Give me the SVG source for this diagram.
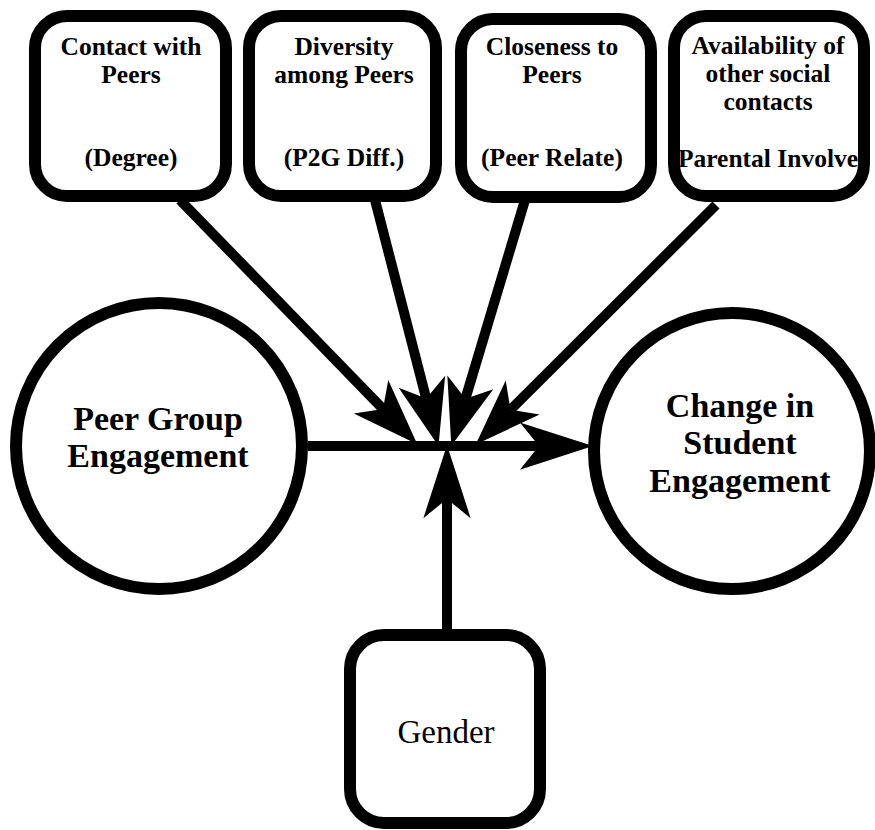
<svg xmlns="http://www.w3.org/2000/svg" width="875" height="830" viewBox="0 0 875 830">
<style>
.box{fill:#fff;stroke:#000;stroke-width:12}
.circ{fill:#fff;stroke:#000;stroke-width:12}
.bt{font-family:"Liberation Serif","Times New Roman",serif;font-weight:bold;font-size:25.5px;text-anchor:middle;fill:#000}
.ct{font-family:"Liberation Serif","Times New Roman",serif;font-weight:bold;font-size:34px;text-anchor:middle;fill:#000}
.gt{font-family:"Liberation Serif","Times New Roman",serif;font-size:33px;text-anchor:middle;fill:#000}
.ln{stroke:#000;stroke-width:10;fill:none}
</style>
<defs>
<marker id="ahS" markerUnits="userSpaceOnUse" orient="auto" refX="0" refY="0" markerWidth="80" markerHeight="60" viewBox="-20 -25 70 50" overflow="visible">
<path d="M-15,-21 L43,0 L-15,21 L0,0 Z" fill="#000"/>
</marker>
<marker id="ahB" markerUnits="userSpaceOnUse" orient="auto" refX="0" refY="0" markerWidth="90" markerHeight="60" viewBox="-20 -25 80 50" overflow="visible">
<path d="M-17,-21 L48,0 L-17,21 L0,0 Z" fill="#000"/>
</marker>
</defs>
<g id="connectors">
<line class="ln" x1="180" y1="200" x2="383" y2="409" marker-end="url(#ahS)"/>
<line class="ln" x1="375" y1="200" x2="426.2" y2="398.4" marker-end="url(#ahS)"/>
<line class="ln" x1="525" y1="200" x2="465.4" y2="398.8" marker-end="url(#ahS)"/>
<line class="ln" x1="716" y1="205" x2="510.5" y2="409.7" marker-end="url(#ahS)"/>
<line class="ln" x1="308" y1="446" x2="539" y2="446" marker-end="url(#ahB)"/>
<line class="ln" x1="447" y1="629" x2="447" y2="499" marker-end="url(#ahB)"/>
</g>
<g id="contact">
<rect class="box" x="35" y="16" width="191" height="180" rx="32"/>
<text class="bt" x="131" y="55">Contact with</text>
<text class="bt" x="131" y="83">Peers</text>
<text class="bt" x="131" y="166">(Degree)</text>
</g>
<g id="diversity">
<rect class="box" x="249" y="16" width="187" height="180" rx="32"/>
<text class="bt" x="344" y="55">Diversity</text>
<text class="bt" x="344" y="83">among Peers</text>
<text class="bt" x="344" y="166">(P2G Diff.)</text>
</g>
<g id="closeness">
<rect class="box" x="461" y="19" width="190" height="178" rx="32"/>
<text class="bt" x="552" y="55">Closeness to</text>
<text class="bt" x="552" y="83">Peers</text>
<text class="bt" x="552" y="166">(Peer Relate)</text>
</g>
<g id="availability">
<rect class="box" x="674" y="16" width="190" height="180" rx="32"/>
<text class="bt" x="768" y="54">Availability of</text>
<text class="bt" x="768" y="82">other social</text>
<text class="bt" x="768" y="110">contacts</text>
<text class="bt" x="768" y="167">Parental Involve</text>
</g>
<g id="peer-group">
<circle class="circ" cx="159" cy="446" r="143"/>
<text class="ct" x="158" y="430">Peer Group</text>
<text class="ct" x="158" y="467">Engagement</text>
</g>
<g id="change">
<circle class="circ" cx="732" cy="451" r="138"/>
<text class="ct" x="740" y="417">Change in</text>
<text class="ct" x="740" y="454">Student</text>
<text class="ct" x="740" y="492">Engagement</text>
</g>
<g id="gender">
<rect class="box" x="350" y="635" width="190" height="188" rx="34"/>
<text class="gt" x="446" y="743">Gender</text>
</g>
</svg>
